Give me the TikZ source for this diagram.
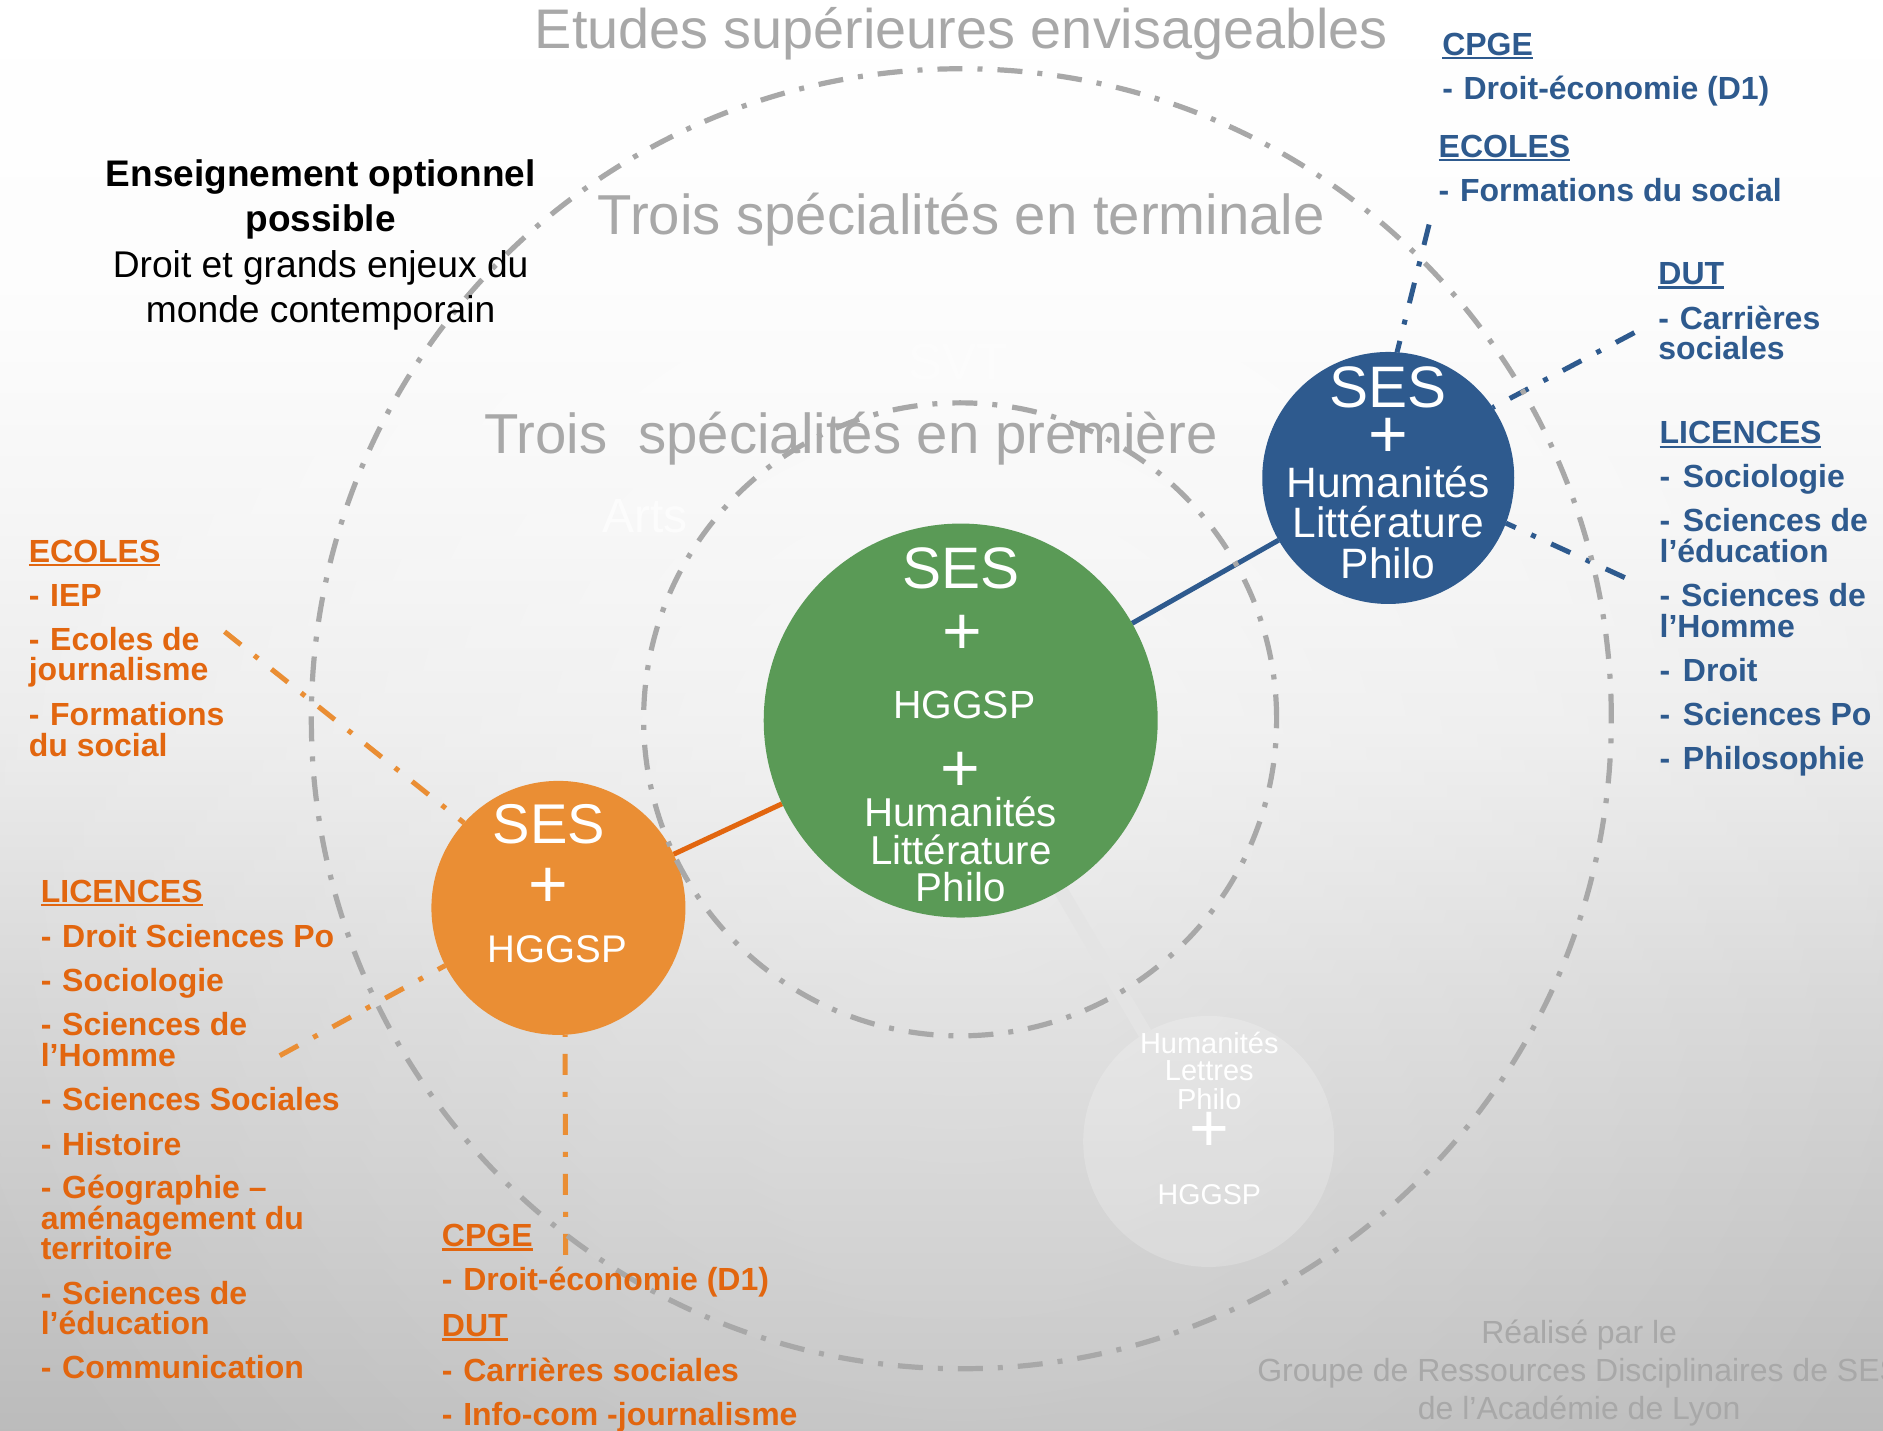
\documentclass[tikz,border=0pt]{standalone}
\usepackage{fontspec}
\usetikzlibrary{fadings}
\setmainfont{Liberation Sans}
\definecolor{grayline}{HTML}{A8A8A8}
\definecolor{bluec}{HTML}{2E5A8E}
\definecolor{greenc}{HTML}{5A9A56}
\definecolor{orangec}{HTML}{EA8E34}
\definecolor{oranget}{HTML}{E2660F}
\definecolor{paleline}{gray}{.895}
\definecolor{g0}{gray}{1}
\definecolor{g1}{gray}{.99}
\definecolor{g2}{gray}{.965}
\definecolor{g3}{gray}{.925}
\definecolor{g4}{gray}{.84}
\definecolor{g5}{gray}{.735}
% stops: 75bp = top of picture, 25bp = bottom (bp = 75 - 50*y/1430)
\pgfdeclareverticalshading{pagebg}{100bp}{color(0bp)=(g5);color(25bp)=(g5);color(40bp)=(g4);color(49.5bp)=(g3);color(57.5bp)=(g2);color(64.5bp)=(g1);color(75bp)=(g0);color(100bp)=(g0)}
\tikzfading[name=glow,inner color=transparent!62,outer color=transparent!100]
\pgfdeclarelayer{under}
\pgfsetlayers{under,main}
\newcounter{tn}
\newcommand\tx[4][]{\stepcounter{tn}\node[lbl,#1] (t\arabic{tn}) at (#2,#3) {#4};}
\newcommand\ul[1]{\setbox0\hbox{#1}\rlap{\rule[-4pt]{\wd0}{2.2pt}}\box0}
\newcommand\dd{-\ \kern1.8pt}
\newcommand\ddw{-\ \kern3.8pt}
\tikzset{
  lbl/.style={inner sep=0pt,outer sep=0pt,anchor=base west},
  ctr/.style={anchor=base},
  fs/.style={font=\fontsize{#1}{#1}\selectfont},
  fb/.style={font=\fontsize{#1}{#1}\selectfont\bfseries},
  listor/.style={fb=32,text=oranget},
  listbl/.style={fb=32,text=bluec},
  title/.style={ctr,fs=56.3,text=grayline},
  wt/.style={ctr,text=white},
  credit/.style={ctr,fs=32,text=grayline},
  ghost/.style={ctr,text=white,opacity=.65},
  ring/.style={circle,draw=grayline,line width=5.2pt,inner sep=0pt,fill=none,dash pattern=on 25pt off 15pt on 5pt off 15pt},
  disc/.style={circle,draw=none,inner sep=0pt,outer sep=0pt},
  tie/.style={line width=5pt,dash pattern=on 21pt off 17pt on 5pt off 17pt},
}
\begin{document}
\begin{tikzpicture}[x=1.2009pt,y=-1.2009pt]
\useasboundingbox (0,0) rectangle (1568,1190.8);
\clip (0,0) rectangle (1568,1190.8);
\begin{pgfonlayer}{under}
\shade[shading=pagebg] (0,0) rectangle (1568,1190.8);
\fill[white,path fading=glow] (800,666) circle (900);
\end{pgfonlayer}

% free ends of the dashed connectors
\coordinate (endcpgeb) at (1190,187);
\coordinate (enddutb) at (1361,277);
\coordinate (endlicb) at (1353,481);
\coordinate (endecoo) at (187,526);
\coordinate (endlico) at (233,879);
\coordinate (endcpgeo) at (471,1045);

% discs
\node[disc,minimum size=251pt,fill=white,opacity=.2] (pale) at (1006.5,950.5) {};
\node[disc,minimum size=394pt,fill=greenc] (green) at (800,600) {};
\node[disc,minimum size=254pt,fill=orangec] (orange) at (465,756) {};
\node[disc,minimum size=252pt,fill=bluec] (blue) at (1156,398) {};

% connectors
\begin{pgfonlayer}{under}
\draw[line width=14pt,color=paleline] (green) -- (pale);
\draw[bluec,line width=5pt] (green) -- (blue);
\draw[oranget,line width=5pt] (green) -- (orange);
\draw[tie,bluec] (endcpgeb) -- (blue.86);
\draw[tie,bluec] (enddutb) -- (blue.34);
\draw[tie,bluec] (endlicb) -- (blue.-21);
\draw[tie,orangec] (endecoo) -- (orange.138);
\draw[tie,orangec] (endlico) -- (orange.207);
\draw[tie,orangec] (endcpgeo) -- (orange.-87);
\end{pgfonlayer}

% rings
\node[ring,minimum size=1300pt] (outer) at (800.5,598.5) {};
\node[ring,minimum size=633pt] (inner) at (799.5,599) {};

% titles
\tx[title,fs=55.8]{800.5}{40}{Etudes supérieures envisageables}
\tx[title]{800.5}{195}{Trois spécialités en terminale}
\tx[title]{708.5}{377.5}{Trois\ \ spécialités en première}
\tx[ghost,fs=48]{537}{443}{Arts}
\tx[ghost,fs=51,opacity=.35]{798}{316}{SVT}

% optional teaching
\tx[ctr,fb=37]{267}{155}{Enseignement optionnel}
\tx[ctr,fb=37]{267}{193}{possible}
\tx[ctr,fs=37.2]{267}{231}{Droit et grands enjeux du}
\tx[ctr,fs=37.2]{267}{268.5}{monde contemporain}

% green disc
\tx[wt,fs=58.5]{800}{490}{SES}
\tx[wt,fs=68]{801}{545}{+}
\tx[wt,fs=39.3]{803}{598}{HGGSP}
\tx[wt,fs=68]{800}{659}{+}
\tx[wt,fs=40.3]{800}{688}{Humanités}
\tx[wt,fs=40.3]{800}{719.5}{Littérature}
\tx[wt,fs=40.3]{800}{751}{Philo}

% orange disc
\tx[wt,fs=56]{457}{702.5}{SES}
\tx[wt,fs=68]{457}{756}{+}
\tx[wt,fs=38.5]{464}{801.5}{HGGSP}

% blue disc
\tx[wt,fs=58.5]{1156}{339.5}{SES}
\tx[wt,fs=68]{1156}{381}{+}
\tx[wt,fs=42.5]{1156}{414}{Humanités}
\tx[wt,fs=42.5]{1156}{447.5}{Littérature}
\tx[wt,fs=42.5]{1156}{481.5}{Philo}

% pale disc
\tx[wt,fs=29]{1007}{877}{Humanités}
\tx[wt,fs=29]{1007}{900}{Lettres}
\tx[wt,fs=29]{1007}{924}{Philo}
\tx[wt,fs=68]{1007}{958.5}{+}
\tx[wt,fs=28.6]{1007}{1003}{HGGSP}

% orange lists
\tx[listor]{24}{468}{\ul{ECOLES}}
\tx[listor]{24}{505}{\dd IEP}
\tx[listor]{24}{542}{\dd Ecoles de}
\tx[listor]{24}{567}{journalisme}
\tx[listor]{24}{604}{\dd Formations}
\tx[listor]{24}{630}{du social}

\tx[listor]{34}{751.5}{\ul{LICENCES}}
\tx[listor]{34}{789}{\dd Droit Sciences Po}
\tx[listor]{34}{826}{\dd Sociologie}
\tx[listor]{34}{862}{\dd Sciences de}
\tx[listor]{34}{888}{l’Homme}
\tx[listor]{34}{925}{\dd Sciences Sociales}
\tx[listor]{34}{962}{\dd Histoire}
\tx[listor]{34}{998}{\dd Géographie –}
\tx[listor]{34}{1024}{aménagement du}
\tx[listor]{34}{1049}{territoire}
\tx[listor]{34}{1086}{\dd Sciences de}
\tx[listor]{34}{1111}{l’éducation}
\tx[listor]{34}{1148}{\dd Communication}

\tx[listor]{368}{1038}{\ul{CPGE}}
\tx[listor]{368}{1075}{\dd Droit-économie (D1)}
\tx[listor]{368}{1113}{\ul{DUT}}
\tx[listor]{368}{1150}{\dd Carrières sociales}
\tx[listor]{368}{1187}{\dd Info-com -journalisme}

% blue lists
\tx[listbl]{1201}{46}{\ul{CPGE}}
\tx[listbl]{1201}{82.5}{\dd Droit-économie (D1)}
\tx[listbl]{1198}{131}{\ul{ECOLES}}
\tx[listbl]{1198}{167.5}{\dd Formations du social}
\tx[listbl]{1381}{237}{\ul{DUT}}
\tx[listbl]{1381}{274}{\dd Carrières}
\tx[listbl]{1381}{299}{sociales}
\tx[listbl]{1382}{369.5}{\ul{LICENCES}}
\tx[listbl]{1382}{406}{\ddw Sociologie}
\tx[listbl]{1382}{442.5}{\ddw Sciences de}
\tx[listbl]{1382}{468}{l’éducation}
\tx[listbl]{1382}{505}{\dd Sciences de}
\tx[listbl]{1382}{531}{l’Homme}
\tx[listbl]{1382}{567.5}{\ddw Droit}
\tx[listbl]{1382}{604}{\ddw Sciences Po}
\tx[listbl]{1382}{641}{\ddw Philosophie}

% credit
\tx[credit]{1315}{1118.5}{Réalisé par le}
\tx[credit]{1315}{1150}{Groupe de Ressources Disciplinaires de SES}
\tx[credit]{1315}{1182}{de l’Académie de Lyon}
\end{tikzpicture}
\end{document}
